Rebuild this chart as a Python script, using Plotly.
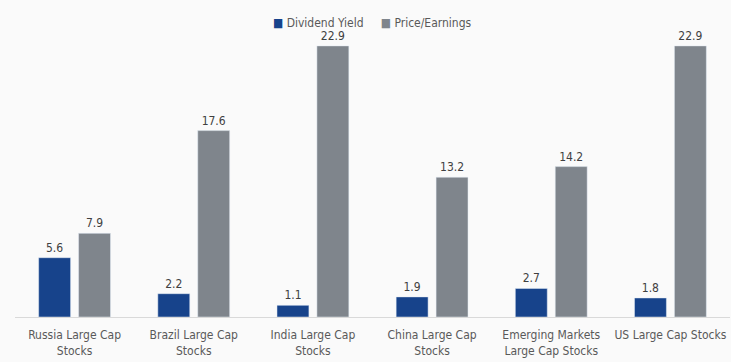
import plotly.graph_objects as go

categories = ["Russia Large Cap<br>Stocks", "Brazil Large Cap<br>Stocks", "India Large Cap<br>Stocks",
              "China Large Cap<br>Stocks", "Emerging Markets<br>Large Cap Stocks", "US Large Cap Stocks"]
dividend_yield = [5.6, 2.2, 1.1, 1.9, 2.7, 1.8]
# bar heights as drawn in the picture
price_earnings = [7.9, 17.6, 25.6, 13.2, 14.2, 25.6]
# labels as printed in the picture
dividend_labels = ["5.6", "2.2", "1.1", "1.9", "2.7", "1.8"]
pe_labels = ["7.9", "17.6", "22.9", "13.2", "14.2", "22.9"]
series_names = ["Dividend Yield", "Price/Earnings"]
series_colors = ["#17438b", "#7f858c"]

FONT = "DejaVu Sans Condensed, Liberation Sans Narrow, Arial Narrow, Liberation Sans, sans-serif"

fig = go.Figure()
fig.add_bar(x=categories, y=dividend_yield, name=series_names[0], marker_color=series_colors[0],
            text=dividend_labels, textposition="outside", cliponaxis=False,
            textfont=dict(family=FONT, size=12, color="#404040"))
fig.add_bar(x=categories, y=price_earnings, name=series_names[1], marker_color=series_colors[1],
            text=pe_labels, textposition="outside", cliponaxis=False,
            textfont=dict(family=FONT, size=12, color="#404040"))

legend_text = "&nbsp;&nbsp;&nbsp;&nbsp;&nbsp;".join(
    f"<span style='color:{c}'>■</span> {n}" for n, c in zip(series_names, series_colors))
fig.add_annotation(text=legend_text, xref="paper", yref="paper", x=0.5, y=1.0,
                   xanchor="center", yanchor="bottom", yshift=-2, showarrow=False,
                   font=dict(family=FONT, size=12, color="#595959"))

fig.update_layout(
    width=731, height=362,
    margin=dict(l=15, r=1, t=30, b=45),
    paper_bgcolor="#fafafa", plot_bgcolor="#fafafa",
    barmode="group", bargap=0.33, bargroupgap=0.2,
    font=dict(family=FONT, size=12, color="#595959"),
    showlegend=False,
    xaxis=dict(showline=True, linecolor="#d9d9d9", linewidth=1,
               ticks="outside", ticklen=7, tickcolor="rgba(0,0,0,0)",
               tickfont=dict(family=FONT, size=12, color="#595959")),
    yaxis=dict(range=[0, 27.1], visible=False, showgrid=False, zeroline=False),
)

fig.write_html("out.html", config={"displayModeBar": False},
               post_script="document.body.style.margin='0';document.body.style.overflow='hidden';")
